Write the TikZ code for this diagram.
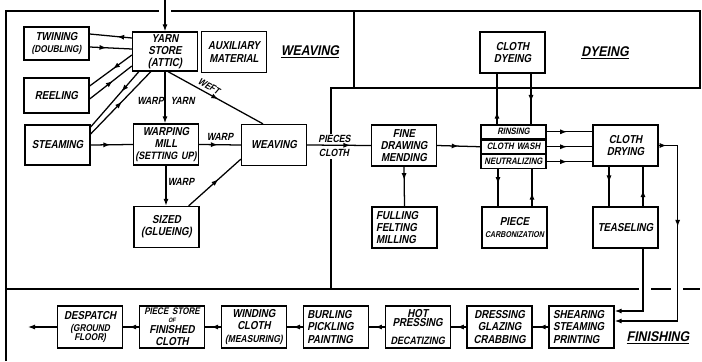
\documentclass[tikz,border=0pt]{standalone}
\usepackage{fontspec}
\newfontfamily\lettering[FakeStretch=0.84, FakeSlant=0.2]{Liberation Sans}
\newfontfamily\zonefont[FakeStretch=0.88, FakeSlant=0.2]{Liberation Sans}
\usetikzlibrary{arrows.meta, positioning, calc, decorations.markings}
\tikzset{
  box/.style={
    draw, line width=0.9pt,
    minimum width=1.625cm, minimum height=1.025cm,
    text width=1.555cm, inner sep=1pt, align=center,
    font=\lettering\bfseries\fontsize{8.2}{8.7}\selectfont
  },
  lbox/.style   = {box, text width=1.42cm, align=left},
  rowbox/.style = {box, minimum height=0.342cm, inner sep=0pt, text width=1.625cm,
                   font=\lettering\bfseries\fontsize{6.6}{7.3}\selectfont},
  finbox/.style = {box, minimum height=1.05cm},
  tag/.style    = {inner sep=0.5pt, font=\lettering\bfseries\fontsize{7.4}{8}\selectfont},
  zonelbl/.style= {inner sep=1pt, font=\zonefont\bfseries\fontsize{10}{12}\selectfont},
  zone/.style   = {line width=0.9pt},
  arr/.style    = {-{Latex[length=5pt,width=3.6pt]}, line width=0.9pt},
  midarr/.style = {line width=0.9pt, postaction={decorate},
                   decoration={markings, mark=at position #1 with
                   {\arrow{Latex[length=5pt,width=3.6pt]}}}},
  midarr/.default=0.5,
}
\begin{document}
\begin{tikzpicture}[x=0.025cm, y=-0.025cm]
  \useasboundingbox (0,0) rectangle (702,361);

  % ── department borders ─────────────────────────────────────────────────────
  \draw[zone] (6,361) -- (6,11) -- (159,11);
  \draw[zone] (171,11) -- (700,11) -- (700,88) -- (331,88) -- (331,134);
  \draw[zone] (354,11) -- (354,88);
  \draw[zone] (331,159) -- (331,289);
  \draw[zone] (6,289) -- (639,289);
  \draw[zone] (651,289) -- (671,289);
  \draw[zone] (683,289) -- (700,289);

  \node[zonelbl] (wlbl) at (310,52)  {\underline{WEAVING}};
  \node[zonelbl] (dlbl) at (605,53)  {\underline{DYEING}};
  \node[zonelbl] (flbl) at (658,338) {\underline{FINISHING}};

  % ── weaving ────────────────────────────────────────────────────────────────
  \node[box, minimum height=0.825cm] (twin) at (56.5,43.5)
        {TWINING\\{\fontsize{7}{7.8}\selectfont(DOUBLING)}};
  \node[box, minimum height=0.875cm] (reel) at (56.5,95.5) {REELING};
  \node[box, minimum height=1cm]     (steam) at (57.5,145) {STEAMING};
  \node[box, minimum height=0.975cm] (yarn) at (165,51.5) {YARN\\STORE\\(ATTIC)};
  \node[box]                         (aux)  at (234,52)    {AUXILIARY\\MATERIAL};
  \node[box]                         (warp) at (166,144.5)
        {WARPING\\MILL\\{\fontsize{7.6}{8.7}\selectfont(SETTING UP)}};
  \node[box]                         (weave) at (274,145)  {WEAVING};
  \node[box]                         (sized) at (166.5,227) {SIZED\\(GLUEING)};

  \coordinate (in) at (165,0);
  \node[tag] (wy)    at (166,101) {WARP\hspace{5pt}YARN};
  \node[tag, rotate=-29, font=\lettering\bfseries\fontsize{6.8}{7}\selectfont]
        (weft) at (209,86) {WEFT};
  \node[tag] (warpa) at (220,137) {WARP};
  \node[tag] (warpb) at (181,182) {WARP};
  \node[tag] (pcs)   at (334.5,139) {PIECES};
  \node[tag] (clo)   at (334,153)   {CLOTH};

  % ── finishing (upper) and dyeing ───────────────────────────────────────────
  \node[box] (fine) at (404,145.5)   {FINE\\DRAWING\\MENDING};
  \node[lbox] (full) at (404.5,227.5) {FULLING\\FELTING\\MILLING};
  \node[rowbox] (rinse) at (513.5,131.8)  {RINSING};
  \node[rowbox, below=0pt of rinse] (wash) {CLOTH WASH};
  \node[rowbox, below=0pt of wash]  (neut) {NEUTRALIZING};
  \node[box] (carb) at (514.5,227.5)
        {PIECE\\{\fontsize{6}{7}\selectfont CARBONIZATION}};
  \node[box] (dye)  at (512.5,52.5)  {CLOTH\\DYEING};
  \node[box] (dry)  at (625.5,145.5) {CLOTH\\DRYING};
  \node[box] (teas) at (625.5,227.5) {TEASELING};

  % ── finishing (lower row) ──────────────────────────────────────────────────
  \node[finbox, lbox, minimum height=1.05cm] (shear) at (581.5,327)
        {SHEARING\\STEAMING\\PRINTING};
  \node[finbox, left=0.39cm of shear] (dress) {DRESSING\\GLAZING\\CRABBING};
  \node[finbox, left=0.39cm of dress] (hot)
        {HOT\\[-2pt]PRESSING\\[4pt]{\fontsize{7.6}{8}\selectfont DECATIZING}};
  \node[finbox, lbox, minimum height=1.05cm, left=0.39cm of hot] (burl)
        {BURLING\\PICKLING\\PAINTING};
  \node[finbox, left=0.39cm of burl]  (wind)
        {WINDING\\CLOTH\\{\fontsize{7.2}{8.7}\selectfont(MEASURING)}};
  \node[finbox, left=0.39cm of wind]  (store)
        {{\fontsize{6.8}{7.5}\selectfont PIECE STORE}\\[-3pt]{\fontsize{4.5}{5}\selectfont OF}\\[-1pt]FINISHED\\CLOTH};
  \node[finbox, left=0.39cm of store] (desp)
        {DESPATCH\\{\fontsize{7}{7.5}\selectfont(GROUND}\\[-2pt]{\fontsize{7}{7.5}\selectfont FLOOR)}};
  \coordinate (out) at (28,327);

  % ── arrows weaving ─────────────────────────────────────────────────────────
  \draw[arr] (in) -- (yarn.north);
  \draw[midarr=0.35] ($(yarn.west)+(0,-13.5)$) -- ($(twin.east)+(0,-9.5)$);
  \draw[midarr=0.4]  ($(twin.east)+(0,3.5)$)   -- ($(yarn.west)+(0,-2.5)$);
  \draw[midarr=0.45] ($(yarn.west)+(0,3.5)$)   -- ($(reel.east)+(0,-9.5)$);
  \draw[midarr=0.55] ($(reel.east)+(0,3.5)$)   -- ($(yarn.west)+(0,14.5)$);
  \draw[midarr=0.36] ($(yarn.south west)+(7,0)$)  -- ($(steam.east)+(0,-18)$);
  \draw[midarr=0.52] ($(steam.east)+(0,-11)$)     -- ($(yarn.south west)+(19,0)$);
  \draw[arr] (yarn.south) -- (yarn.south |- warp.north);
  \draw[midarr=0.53] ($(yarn.south)+(3,0)$) -- ($(weave.north)+(-11,0)$);
  \draw[midarr=0.47] (steam.east) -- (warp.west);
  \draw[midarr=0.45] (warp.east) -- (weave.west);
  \draw[arr] (warp.south) -- (warp.south |- sized.north);
  \draw[midarr=0.57] ($(sized.north east)+(-11,0)$) -- ($(weave.south west)+(0,-7)$);
  \draw[midarr=0.68] (weave.east) -- (fine.west);

  % ── arrows dyeing / finishing ──────────────────────────────────────────────
  \draw[midarr=0.34] (fine.south) -- (full.north);
  \draw[midarr=0.5]  (fine.east) -- (wash.west);
  \draw[midarr=0.25] ($(rinse.north)+(-16.5,0)$) -- ($(dye.south)+(-15.5,0)$);
  \draw[midarr=0.56] ($(dye.south)+(18.5,0)$)    -- ($(rinse.north)+(17.5,0)$);
  \draw[midarr=0.45] (rinse.east) -- (rinse.east -| dry.west);
  \draw[midarr=0.45] (wash.east)  -- (wash.east -| dry.west);
  \draw[midarr=0.45] (neut.east)  -- (neut.east -| dry.west);
  \draw[midarr=0.4]  ($(neut.south)+(-15.5,0)$) -- ($(carb.north)+(-16.5,0)$);
  \draw[midarr=0.37] ($(carb.north)+(17.5,0)$)  -- ($(neut.south)+(18.5,0)$);
  \draw[midarr=0.4]  ($(dry.south)+(-16.5,0)$)  -- ($(teas.north)+(-16.5,0)$);
  \draw[midarr=0.41] ($(teas.north)+(17.5,0)$)  -- ($(dry.south)+(17.5,0)$);
  \draw[arr] ($(teas.south)+(17.5,0)$) |- ($(shear.east)+(0,-16)$);
  \draw[arr, postaction={decorate}, decoration={markings,
        mark=at position 0.2cm with {\arrow{Latex[length=5pt,width=3.6pt]}},
        mark=at position 0.39 with {\arrow{Latex[length=5pt,width=3.6pt]}}}]
        (dry.east) -- ++(19,0) |- ($(shear.east)+(0,-6)$);

  % ── arrows lower row ───────────────────────────────────────────────────────
  \draw[midarr=0.62] (shear.west) -- (dress.east);
  \draw[midarr=0.62] (dress.west) -- (hot.east);
  \draw[midarr=0.62] (hot.west)   -- (burl.east);
  \draw[midarr=0.62] (burl.west)  -- (wind.east);
  \draw[midarr=0.62] (wind.west)  -- (store.east);
  \draw[midarr=0.62] (store.west) -- (desp.east);
  \draw[arr] (desp.west) -- (out);

\end{tikzpicture}
\end{document}
